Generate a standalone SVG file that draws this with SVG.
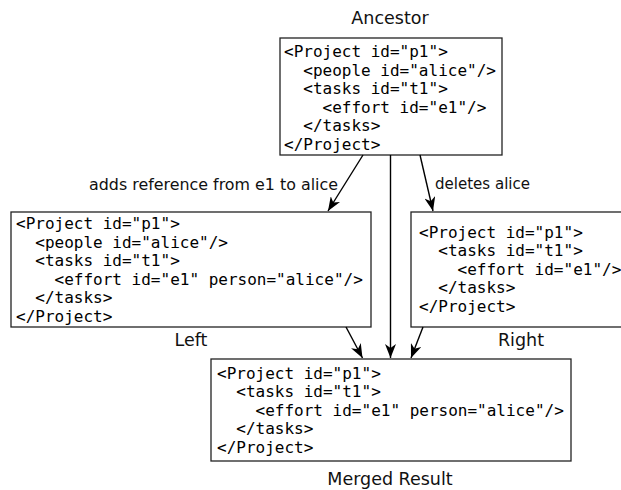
<svg xmlns="http://www.w3.org/2000/svg" width="621" height="490" viewBox="0 0 621 490">
<style>
.box{fill:#fff;stroke:#222;stroke-width:1.3}
.code{font-family:"DejaVu Sans Mono",monospace;font-size:16px;fill:#000;white-space:pre}
.title{font-family:"DejaVu Sans",sans-serif;font-size:17.5px;fill:#111;text-anchor:middle}
.elabel{font-family:"DejaVu Sans",sans-serif;font-size:15.5px;fill:#111}
.conn{stroke:#000;stroke-width:1.4;fill:none;marker-end:url(#arr)}
</style>
<defs>
<marker id="arr" viewBox="0 0 14 11" refX="14" refY="5.5" markerWidth="14" markerHeight="11" markerUnits="userSpaceOnUse" orient="auto">
<path d="M0,0 L14,5.5 L0,11 L4,5.5 Z" fill="#000"/>
</marker>
</defs>
<g id="ancestor">
<text class="title" x="390" y="24">Ancestor</text>
<rect class="box" x="280" y="38" width="222" height="117"/>
<text class="code" xml:space="preserve"><tspan x="284" y="57">&lt;Project id="p1"&gt;</tspan><tspan x="284" y="75.5">  &lt;people id="alice"/&gt;</tspan><tspan x="284" y="94">  &lt;tasks id="t1"&gt;</tspan><tspan x="284" y="112.5">    &lt;effort id="e1"/&gt;</tspan><tspan x="284" y="131">  &lt;/tasks&gt;</tspan><tspan x="284" y="149.5">&lt;/Project&gt;</tspan></text>
</g>
<g id="left">
<rect class="box" x="11" y="212" width="360" height="115"/>
<text class="code" xml:space="preserve"><tspan x="16" y="229">&lt;Project id="p1"&gt;</tspan><tspan x="16" y="247.5">  &lt;people id="alice"/&gt;</tspan><tspan x="16" y="266">  &lt;tasks id="t1"&gt;</tspan><tspan x="16" y="284.5">    &lt;effort id="e1" person="alice"/&gt;</tspan><tspan x="16" y="303">  &lt;/tasks&gt;</tspan><tspan x="16" y="321.5">&lt;/Project&gt;</tspan></text>
<text class="title" x="191" y="346">Left</text>
</g>
<g id="right">
<rect class="box" x="411" y="212" width="220" height="115"/>
<text class="code" xml:space="preserve"><tspan x="419" y="237.5">&lt;Project id="p1"&gt;</tspan><tspan x="419" y="256">  &lt;tasks id="t1"&gt;</tspan><tspan x="419" y="274.5">    &lt;effort id="e1"/&gt;</tspan><tspan x="419" y="293">  &lt;/tasks&gt;</tspan><tspan x="419" y="311.5">&lt;/Project&gt;</tspan></text>
<text class="title" x="521" y="346">Right</text>
</g>
<g id="merged">
<rect class="box" x="211" y="359" width="360" height="102"/>
<text class="code" xml:space="preserve"><tspan x="217" y="378.5">&lt;Project id="p1"&gt;</tspan><tspan x="217" y="397">  &lt;tasks id="t1"&gt;</tspan><tspan x="217" y="415.5">    &lt;effort id="e1" person="alice"/&gt;</tspan><tspan x="217" y="434">  &lt;/tasks&gt;</tspan><tspan x="217" y="452.5">&lt;/Project&gt;</tspan></text>
<text class="title" x="390" y="485">Merged Result</text>
</g>
<g id="connectors">
<line class="conn" x1="363" y1="155" x2="328" y2="211"/>
<line class="conn" x1="390.5" y1="155" x2="390.5" y2="358"/>
<line class="conn" x1="420" y1="155" x2="433" y2="211"/>
<line class="conn" x1="346" y1="327" x2="362.5" y2="358"/>
<line class="conn" x1="423" y1="327" x2="411" y2="358"/>
<text class="elabel" x="89" y="190" textLength="249" lengthAdjust="spacingAndGlyphs">adds reference from e1 to alice</text>
<text class="elabel" x="435" y="189" textLength="95" lengthAdjust="spacingAndGlyphs">deletes alice</text>
</g>
</svg>
